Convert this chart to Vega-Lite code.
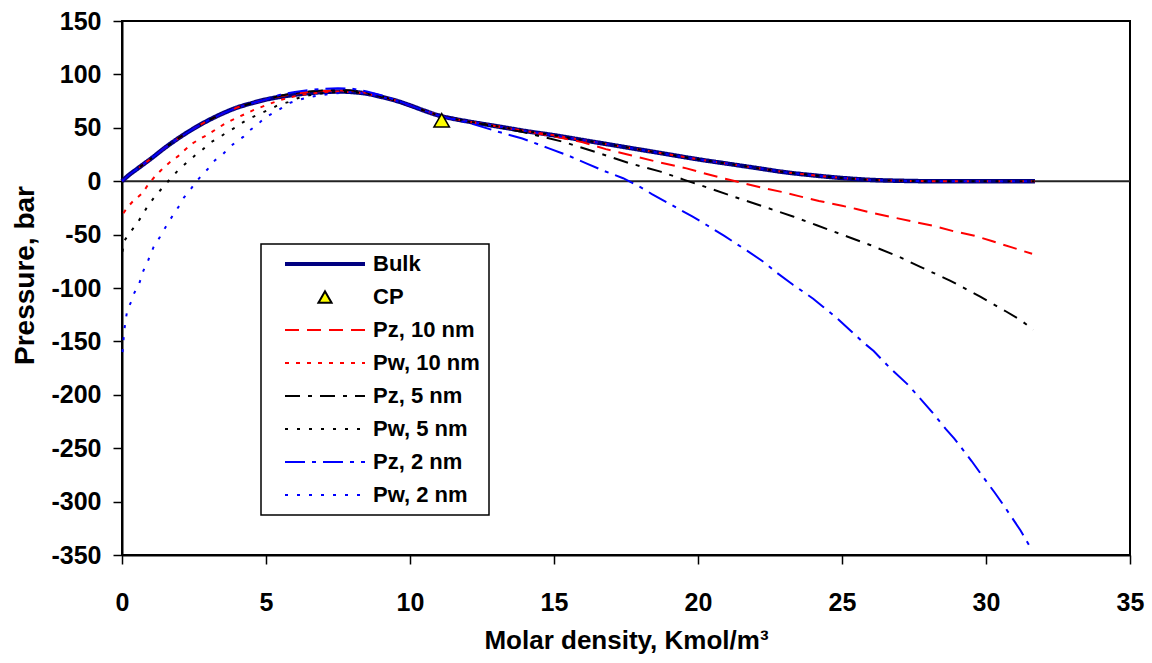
{
  "$schema": "https://vega.github.io/schema/vega-lite/v6.json",
  "width": 1008,
  "height": 534,
  "autosize": {"type": "none"},
  "padding": {"left": 122, "top": 21, "right": 22, "bottom": 108},
  "background": "white",
  "datasets": {
    "d": [
      {"s":"Bulk","x":0,"p":0},{"s":"Bulk","x":0.25,"p":6},{"s":"Bulk","x":0.5,"p":11},{"s":"Bulk","x":0.75,"p":16},{"s":"Bulk","x":1,"p":21},{"s":"Bulk","x":1.5,"p":31.5},{"s":"Bulk","x":2,"p":41},{"s":"Bulk","x":2.5,"p":49.5},{"s":"Bulk","x":3,"p":57},{"s":"Bulk","x":3.5,"p":63.5},{"s":"Bulk","x":4,"p":69},{"s":"Bulk","x":4.5,"p":73},{"s":"Bulk","x":5,"p":76.5},{"s":"Bulk","x":5.5,"p":79},{"s":"Bulk","x":6,"p":81},{"s":"Bulk","x":6.5,"p":82.5},{"s":"Bulk","x":7,"p":83.5},{"s":"Bulk","x":7.5,"p":84},{"s":"Bulk","x":8,"p":83.5},{"s":"Bulk","x":8.5,"p":82},{"s":"Bulk","x":9,"p":79},{"s":"Bulk","x":9.5,"p":75.5},{"s":"Bulk","x":10,"p":71},{"s":"Bulk","x":10.5,"p":66},{"s":"Bulk","x":11,"p":61.5},{"s":"Bulk","x":11.5,"p":58.5},{"s":"Bulk","x":12,"p":56},{"s":"Bulk","x":13,"p":51.5},{"s":"Bulk","x":14,"p":47},{"s":"Bulk","x":15,"p":43},{"s":"Bulk","x":16,"p":38.5},{"s":"Bulk","x":17,"p":34},{"s":"Bulk","x":18,"p":29.5},{"s":"Bulk","x":19,"p":25},{"s":"Bulk","x":20,"p":20.5},{"s":"Bulk","x":21,"p":16.5},{"s":"Bulk","x":22,"p":12.5},{"s":"Bulk","x":23,"p":8.5},{"s":"Bulk","x":24,"p":5.5},{"s":"Bulk","x":25,"p":3},{"s":"Bulk","x":26,"p":1.2},{"s":"Bulk","x":27,"p":0.4},{"s":"Bulk","x":28,"p":0},{"s":"Bulk","x":29,"p":0},{"s":"Bulk","x":30,"p":0},{"s":"Bulk","x":31,"p":0},{"s":"Bulk","x":31.7,"p":0},

      {"s":"CP","x":11.1,"p":57},

      {"s":"Pz, 10 nm","x":0,"p":0},{"s":"Pz, 10 nm","x":0.25,"p":6},{"s":"Pz, 10 nm","x":0.5,"p":11},{"s":"Pz, 10 nm","x":0.75,"p":16},{"s":"Pz, 10 nm","x":1,"p":21},{"s":"Pz, 10 nm","x":1.5,"p":31.5},{"s":"Pz, 10 nm","x":2,"p":41},{"s":"Pz, 10 nm","x":2.5,"p":49.5},{"s":"Pz, 10 nm","x":3,"p":57},{"s":"Pz, 10 nm","x":3.5,"p":63.5},{"s":"Pz, 10 nm","x":4,"p":69},{"s":"Pz, 10 nm","x":4.5,"p":73},{"s":"Pz, 10 nm","x":5,"p":76.5},{"s":"Pz, 10 nm","x":5.5,"p":79.5},{"s":"Pz, 10 nm","x":6,"p":82},{"s":"Pz, 10 nm","x":6.5,"p":83.5},{"s":"Pz, 10 nm","x":7,"p":84.5},{"s":"Pz, 10 nm","x":7.5,"p":85},{"s":"Pz, 10 nm","x":8,"p":84.5},{"s":"Pz, 10 nm","x":8.5,"p":82.5},{"s":"Pz, 10 nm","x":9,"p":79.5},{"s":"Pz, 10 nm","x":9.5,"p":75.5},{"s":"Pz, 10 nm","x":10,"p":71},{"s":"Pz, 10 nm","x":10.5,"p":66},{"s":"Pz, 10 nm","x":11,"p":61.5},{"s":"Pz, 10 nm","x":11.5,"p":58.5},{"s":"Pz, 10 nm","x":12,"p":56},{"s":"Pz, 10 nm","x":13,"p":51.5},{"s":"Pz, 10 nm","x":14,"p":47},{"s":"Pz, 10 nm","x":15,"p":42},{"s":"Pz, 10 nm","x":16,"p":36.5},{"s":"Pz, 10 nm","x":16.8,"p":30},{"s":"Pz, 10 nm","x":17.7,"p":24},{"s":"Pz, 10 nm","x":18.6,"p":18},{"s":"Pz, 10 nm","x":19.6,"p":12},{"s":"Pz, 10 nm","x":20.2,"p":7.5},{"s":"Pz, 10 nm","x":20.9,"p":2.5},{"s":"Pz, 10 nm","x":21.6,"p":-2},{"s":"Pz, 10 nm","x":22.3,"p":-6.5},{"s":"Pz, 10 nm","x":22.9,"p":-10},{"s":"Pz, 10 nm","x":23.5,"p":-14},{"s":"Pz, 10 nm","x":24.2,"p":-18.5},{"s":"Pz, 10 nm","x":25,"p":-23},{"s":"Pz, 10 nm","x":25.5,"p":-26},{"s":"Pz, 10 nm","x":26.1,"p":-30},{"s":"Pz, 10 nm","x":26.8,"p":-34},{"s":"Pz, 10 nm","x":27.5,"p":-38},{"s":"Pz, 10 nm","x":28.2,"p":-42},{"s":"Pz, 10 nm","x":28.9,"p":-47},{"s":"Pz, 10 nm","x":29.6,"p":-51},{"s":"Pz, 10 nm","x":30.2,"p":-56},{"s":"Pz, 10 nm","x":30.9,"p":-62},{"s":"Pz, 10 nm","x":31.6,"p":-68},

      {"s":"Pw, 10 nm","x":0.05,"p":-30},{"s":"Pw, 10 nm","x":0.16,"p":-25.5},{"s":"Pw, 10 nm","x":0.37,"p":-19},{"s":"Pw, 10 nm","x":0.72,"p":-11},{"s":"Pw, 10 nm","x":0.91,"p":-3},{"s":"Pw, 10 nm","x":1.15,"p":4.7},{"s":"Pw, 10 nm","x":1.38,"p":11},{"s":"Pw, 10 nm","x":1.67,"p":18},{"s":"Pw, 10 nm","x":1.95,"p":23.5},{"s":"Pw, 10 nm","x":2.19,"p":29.5},{"s":"Pw, 10 nm","x":2.42,"p":35},{"s":"Pw, 10 nm","x":2.7,"p":39.5},{"s":"Pw, 10 nm","x":3,"p":44},{"s":"Pw, 10 nm","x":3.23,"p":48},{"s":"Pw, 10 nm","x":3.52,"p":53},{"s":"Pw, 10 nm","x":3.8,"p":57},{"s":"Pw, 10 nm","x":4.2,"p":62},{"s":"Pw, 10 nm","x":4.56,"p":66.5},{"s":"Pw, 10 nm","x":5.08,"p":72},{"s":"Pw, 10 nm","x":5.5,"p":76},{"s":"Pw, 10 nm","x":6,"p":79.5},{"s":"Pw, 10 nm","x":6.5,"p":82},{"s":"Pw, 10 nm","x":7,"p":83.5},{"s":"Pw, 10 nm","x":7.5,"p":84},{"s":"Pw, 10 nm","x":8,"p":83.5},{"s":"Pw, 10 nm","x":8.5,"p":82},{"s":"Pw, 10 nm","x":9,"p":79},{"s":"Pw, 10 nm","x":9.5,"p":75.5},{"s":"Pw, 10 nm","x":10,"p":71},{"s":"Pw, 10 nm","x":10.5,"p":66},{"s":"Pw, 10 nm","x":11,"p":61.5},{"s":"Pw, 10 nm","x":11.5,"p":58.5},{"s":"Pw, 10 nm","x":12,"p":56},{"s":"Pw, 10 nm","x":13,"p":51.5},{"s":"Pw, 10 nm","x":14,"p":47},{"s":"Pw, 10 nm","x":15,"p":43},{"s":"Pw, 10 nm","x":16,"p":38.5},{"s":"Pw, 10 nm","x":17,"p":34},{"s":"Pw, 10 nm","x":18,"p":29.5},{"s":"Pw, 10 nm","x":19,"p":25},{"s":"Pw, 10 nm","x":20,"p":20.5},{"s":"Pw, 10 nm","x":21,"p":16.5},{"s":"Pw, 10 nm","x":22,"p":12.5},{"s":"Pw, 10 nm","x":23,"p":8.5},{"s":"Pw, 10 nm","x":24,"p":5.5},{"s":"Pw, 10 nm","x":25,"p":3},{"s":"Pw, 10 nm","x":26,"p":1.2},{"s":"Pw, 10 nm","x":27,"p":0.4},{"s":"Pw, 10 nm","x":28,"p":0},{"s":"Pw, 10 nm","x":29,"p":0},{"s":"Pw, 10 nm","x":30,"p":0},{"s":"Pw, 10 nm","x":31,"p":0},{"s":"Pw, 10 nm","x":31.7,"p":0},

      {"s":"Pz, 5 nm","x":0,"p":0},{"s":"Pz, 5 nm","x":0.25,"p":6},{"s":"Pz, 5 nm","x":0.5,"p":11},{"s":"Pz, 5 nm","x":0.75,"p":16},{"s":"Pz, 5 nm","x":1,"p":21},{"s":"Pz, 5 nm","x":1.5,"p":31.5},{"s":"Pz, 5 nm","x":2,"p":41},{"s":"Pz, 5 nm","x":2.5,"p":49.5},{"s":"Pz, 5 nm","x":3,"p":57},{"s":"Pz, 5 nm","x":3.5,"p":63.5},{"s":"Pz, 5 nm","x":4,"p":69},{"s":"Pz, 5 nm","x":4.5,"p":73},{"s":"Pz, 5 nm","x":5,"p":76.5},{"s":"Pz, 5 nm","x":5.5,"p":80},{"s":"Pz, 5 nm","x":6,"p":82.5},{"s":"Pz, 5 nm","x":6.5,"p":84},{"s":"Pz, 5 nm","x":7,"p":85},{"s":"Pz, 5 nm","x":7.5,"p":85.5},{"s":"Pz, 5 nm","x":8,"p":85},{"s":"Pz, 5 nm","x":8.5,"p":83},{"s":"Pz, 5 nm","x":9,"p":79.5},{"s":"Pz, 5 nm","x":9.5,"p":75.5},{"s":"Pz, 5 nm","x":10,"p":71},{"s":"Pz, 5 nm","x":10.5,"p":66},{"s":"Pz, 5 nm","x":11,"p":61.5},{"s":"Pz, 5 nm","x":11.5,"p":58.5},{"s":"Pz, 5 nm","x":12,"p":56},{"s":"Pz, 5 nm","x":13,"p":51},{"s":"Pz, 5 nm","x":14,"p":45.5},{"s":"Pz, 5 nm","x":15.3,"p":37},{"s":"Pz, 5 nm","x":16.6,"p":26},{"s":"Pz, 5 nm","x":17.6,"p":17},{"s":"Pz, 5 nm","x":18.7,"p":9},{"s":"Pz, 5 nm","x":19.5,"p":1.5},{"s":"Pz, 5 nm","x":20.5,"p":-7.5},{"s":"Pz, 5 nm","x":21.3,"p":-15},{"s":"Pz, 5 nm","x":22.3,"p":-24},{"s":"Pz, 5 nm","x":23.3,"p":-33},{"s":"Pz, 5 nm","x":24.1,"p":-41},{"s":"Pz, 5 nm","x":25.2,"p":-52},{"s":"Pz, 5 nm","x":26,"p":-60},{"s":"Pz, 5 nm","x":27,"p":-71},{"s":"Pz, 5 nm","x":27.7,"p":-80},{"s":"Pz, 5 nm","x":28.75,"p":-93},{"s":"Pz, 5 nm","x":29.8,"p":-108},{"s":"Pz, 5 nm","x":30.25,"p":-115},{"s":"Pz, 5 nm","x":30.7,"p":-122},{"s":"Pz, 5 nm","x":31.2,"p":-130},{"s":"Pz, 5 nm","x":31.64,"p":-139},

      {"s":"Pw, 5 nm","x":0.02,"p":-66},{"s":"Pw, 5 nm","x":0.05,"p":-57},{"s":"Pw, 5 nm","x":0.28,"p":-48},{"s":"Pw, 5 nm","x":0.51,"p":-40},{"s":"Pw, 5 nm","x":0.7,"p":-32},{"s":"Pw, 5 nm","x":0.91,"p":-22.5},{"s":"Pw, 5 nm","x":1.18,"p":-13},{"s":"Pw, 5 nm","x":1.38,"p":-7},{"s":"Pw, 5 nm","x":1.67,"p":2},{"s":"Pw, 5 nm","x":1.95,"p":10.3},{"s":"Pw, 5 nm","x":2.3,"p":18.7},{"s":"Pw, 5 nm","x":2.53,"p":24},{"s":"Pw, 5 nm","x":2.8,"p":29.6},{"s":"Pw, 5 nm","x":3.06,"p":36},{"s":"Pw, 5 nm","x":3.38,"p":41},{"s":"Pw, 5 nm","x":3.63,"p":45.6},{"s":"Pw, 5 nm","x":3.92,"p":50},{"s":"Pw, 5 nm","x":4.16,"p":54.6},{"s":"Pw, 5 nm","x":4.42,"p":58.7},{"s":"Pw, 5 nm","x":4.85,"p":64},{"s":"Pw, 5 nm","x":5.14,"p":67.4},{"s":"Pw, 5 nm","x":5.46,"p":71.8},{"s":"Pw, 5 nm","x":5.77,"p":74},{"s":"Pw, 5 nm","x":6.07,"p":77.5},{"s":"Pw, 5 nm","x":6.5,"p":80.5},{"s":"Pw, 5 nm","x":7,"p":82.5},{"s":"Pw, 5 nm","x":7.5,"p":83.5},{"s":"Pw, 5 nm","x":8,"p":83.5},{"s":"Pw, 5 nm","x":8.5,"p":82},{"s":"Pw, 5 nm","x":9,"p":79},{"s":"Pw, 5 nm","x":9.5,"p":75.5},{"s":"Pw, 5 nm","x":10,"p":71},{"s":"Pw, 5 nm","x":10.5,"p":66},{"s":"Pw, 5 nm","x":11,"p":61.5},{"s":"Pw, 5 nm","x":11.5,"p":58.5},{"s":"Pw, 5 nm","x":12,"p":56},{"s":"Pw, 5 nm","x":13,"p":51.5},{"s":"Pw, 5 nm","x":14,"p":47},{"s":"Pw, 5 nm","x":15,"p":43},{"s":"Pw, 5 nm","x":16,"p":38.5},{"s":"Pw, 5 nm","x":17,"p":34},{"s":"Pw, 5 nm","x":18,"p":29.5},{"s":"Pw, 5 nm","x":19,"p":25},{"s":"Pw, 5 nm","x":20,"p":20.5},{"s":"Pw, 5 nm","x":21,"p":16.5},{"s":"Pw, 5 nm","x":22,"p":12.5},{"s":"Pw, 5 nm","x":23,"p":8.5},{"s":"Pw, 5 nm","x":24,"p":5.5},{"s":"Pw, 5 nm","x":25,"p":3},{"s":"Pw, 5 nm","x":26,"p":1.2},{"s":"Pw, 5 nm","x":27,"p":0.4},{"s":"Pw, 5 nm","x":28,"p":0},{"s":"Pw, 5 nm","x":29,"p":0},{"s":"Pw, 5 nm","x":30,"p":0},{"s":"Pw, 5 nm","x":31,"p":0},{"s":"Pw, 5 nm","x":31.7,"p":0},

      {"s":"Pz, 2 nm","x":0,"p":0},{"s":"Pz, 2 nm","x":0.25,"p":6},{"s":"Pz, 2 nm","x":0.5,"p":11},{"s":"Pz, 2 nm","x":0.75,"p":16},{"s":"Pz, 2 nm","x":1,"p":21},{"s":"Pz, 2 nm","x":1.5,"p":31.5},{"s":"Pz, 2 nm","x":2,"p":41},{"s":"Pz, 2 nm","x":2.5,"p":49.5},{"s":"Pz, 2 nm","x":3,"p":57},{"s":"Pz, 2 nm","x":3.5,"p":63.5},{"s":"Pz, 2 nm","x":4,"p":69},{"s":"Pz, 2 nm","x":4.5,"p":73},{"s":"Pz, 2 nm","x":5,"p":76.5},{"s":"Pz, 2 nm","x":5.5,"p":81},{"s":"Pz, 2 nm","x":6,"p":83.5},{"s":"Pz, 2 nm","x":6.5,"p":85.5},{"s":"Pz, 2 nm","x":7,"p":86.5},{"s":"Pz, 2 nm","x":7.5,"p":87},{"s":"Pz, 2 nm","x":8,"p":86.5},{"s":"Pz, 2 nm","x":8.5,"p":84},{"s":"Pz, 2 nm","x":9,"p":80.5},{"s":"Pz, 2 nm","x":9.5,"p":76},{"s":"Pz, 2 nm","x":10,"p":71},{"s":"Pz, 2 nm","x":10.5,"p":66},{"s":"Pz, 2 nm","x":11,"p":61.5},{"s":"Pz, 2 nm","x":11.5,"p":58},{"s":"Pz, 2 nm","x":12,"p":55},{"s":"Pz, 2 nm","x":13.1,"p":46},{"s":"Pz, 2 nm","x":13.9,"p":40},{"s":"Pz, 2 nm","x":14.8,"p":31},{"s":"Pz, 2 nm","x":15.5,"p":24},{"s":"Pz, 2 nm","x":16.1,"p":17},{"s":"Pz, 2 nm","x":16.7,"p":10},{"s":"Pz, 2 nm","x":17.4,"p":2.8},{"s":"Pz, 2 nm","x":18,"p":-5.6},{"s":"Pz, 2 nm","x":18.4,"p":-12},{"s":"Pz, 2 nm","x":19,"p":-21},{"s":"Pz, 2 nm","x":19.8,"p":-33},{"s":"Pz, 2 nm","x":20.3,"p":-41},{"s":"Pz, 2 nm","x":20.9,"p":-51},{"s":"Pz, 2 nm","x":21.3,"p":-58},{"s":"Pz, 2 nm","x":21.7,"p":-65},{"s":"Pz, 2 nm","x":22.3,"p":-76},{"s":"Pz, 2 nm","x":22.7,"p":-85},{"s":"Pz, 2 nm","x":23.3,"p":-97},{"s":"Pz, 2 nm","x":24,"p":-110},{"s":"Pz, 2 nm","x":24.35,"p":-117.7},{"s":"Pz, 2 nm","x":24.8,"p":-127.6},{"s":"Pz, 2 nm","x":25.3,"p":-140},{"s":"Pz, 2 nm","x":25.74,"p":-151},{"s":"Pz, 2 nm","x":26.1,"p":-159},{"s":"Pz, 2 nm","x":26.67,"p":-175},{"s":"Pz, 2 nm","x":27.25,"p":-189.5},{"s":"Pz, 2 nm","x":27.57,"p":-199},{"s":"Pz, 2 nm","x":28.17,"p":-217.5},{"s":"Pz, 2 nm","x":28.6,"p":-232},{"s":"Pz, 2 nm","x":28.9,"p":-241},{"s":"Pz, 2 nm","x":29.5,"p":-262},{"s":"Pz, 2 nm","x":29.9,"p":-277},{"s":"Pz, 2 nm","x":30.3,"p":-291.5},{"s":"Pz, 2 nm","x":30.6,"p":-303},{"s":"Pz, 2 nm","x":31.2,"p":-327},{"s":"Pz, 2 nm","x":31.5,"p":-341},{"s":"Pz, 2 nm","x":31.55,"p":-344},

      {"s":"Pw, 2 nm","x":0.02,"p":-160},{"s":"Pw, 2 nm","x":0.05,"p":-149},{"s":"Pw, 2 nm","x":0.08,"p":-139.5},{"s":"Pw, 2 nm","x":0.14,"p":-128},{"s":"Pw, 2 nm","x":0.18,"p":-121},{"s":"Pw, 2 nm","x":0.3,"p":-114},{"s":"Pw, 2 nm","x":0.42,"p":-105},{"s":"Pw, 2 nm","x":0.59,"p":-96.6},{"s":"Pw, 2 nm","x":0.74,"p":-84},{"s":"Pw, 2 nm","x":0.91,"p":-74},{"s":"Pw, 2 nm","x":1.09,"p":-62},{"s":"Pw, 2 nm","x":1.32,"p":-52},{"s":"Pw, 2 nm","x":1.49,"p":-44},{"s":"Pw, 2 nm","x":1.64,"p":-37.5},{"s":"Pw, 2 nm","x":1.81,"p":-30},{"s":"Pw, 2 nm","x":1.99,"p":-23},{"s":"Pw, 2 nm","x":2.13,"p":-16},{"s":"Pw, 2 nm","x":2.36,"p":-8.4},{"s":"Pw, 2 nm","x":2.57,"p":-0.6},{"s":"Pw, 2 nm","x":2.77,"p":5.6},{"s":"Pw, 2 nm","x":3,"p":12},{"s":"Pw, 2 nm","x":3.23,"p":19.7},{"s":"Pw, 2 nm","x":3.46,"p":24},{"s":"Pw, 2 nm","x":3.69,"p":30.6},{"s":"Pw, 2 nm","x":3.96,"p":37},{"s":"Pw, 2 nm","x":4.21,"p":41.5},{"s":"Pw, 2 nm","x":4.44,"p":47.7},{"s":"Pw, 2 nm","x":4.68,"p":52.4},{"s":"Pw, 2 nm","x":4.97,"p":59.6},{"s":"Pw, 2 nm","x":5.25,"p":64},{"s":"Pw, 2 nm","x":5.55,"p":68.6},{"s":"Pw, 2 nm","x":5.83,"p":73.3},{"s":"Pw, 2 nm","x":6.18,"p":76.5},{"s":"Pw, 2 nm","x":6.53,"p":79},{"s":"Pw, 2 nm","x":6.88,"p":80.5},{"s":"Pw, 2 nm","x":7.3,"p":82},{"s":"Pw, 2 nm","x":8,"p":83.5},{"s":"Pw, 2 nm","x":8.5,"p":82},{"s":"Pw, 2 nm","x":9,"p":79},{"s":"Pw, 2 nm","x":9.5,"p":75.5},{"s":"Pw, 2 nm","x":10,"p":71},{"s":"Pw, 2 nm","x":10.5,"p":66},{"s":"Pw, 2 nm","x":11,"p":61.5},{"s":"Pw, 2 nm","x":11.5,"p":58.5},{"s":"Pw, 2 nm","x":12,"p":56},{"s":"Pw, 2 nm","x":13,"p":51.5},{"s":"Pw, 2 nm","x":14,"p":47},{"s":"Pw, 2 nm","x":15,"p":43},{"s":"Pw, 2 nm","x":16,"p":38.5},{"s":"Pw, 2 nm","x":17,"p":34},{"s":"Pw, 2 nm","x":18,"p":29.5},{"s":"Pw, 2 nm","x":19,"p":25},{"s":"Pw, 2 nm","x":20,"p":20.5},{"s":"Pw, 2 nm","x":21,"p":16.5},{"s":"Pw, 2 nm","x":22,"p":12.5},{"s":"Pw, 2 nm","x":23,"p":8.5},{"s":"Pw, 2 nm","x":24,"p":5.5},{"s":"Pw, 2 nm","x":25,"p":3},{"s":"Pw, 2 nm","x":26,"p":1.2},{"s":"Pw, 2 nm","x":27,"p":0.4},{"s":"Pw, 2 nm","x":28,"p":0},{"s":"Pw, 2 nm","x":29,"p":0},{"s":"Pw, 2 nm","x":30,"p":0},{"s":"Pw, 2 nm","x":31,"p":0},{"s":"Pw, 2 nm","x":31.7,"p":0}
    ]
  },
  "data": {"name": "d"},
  "layer": [
    {
      "data": {"values": [{}]},
      "mark": {"type": "rule", "color": "#222222", "strokeWidth": 2},
      "encoding": {
        "y": {"datum": 0, "type": "quantitative", "scale": {"domain": [-350, 150], "nice": false}, "title": "Pressure, bar"}
      }
    },
    {
      "transform": [{"filter": "datum.s === 'Bulk'"}],
      "mark": {"type": "line", "strokeWidth": 4.5, "interpolate": "monotone"},
      "encoding": {
        "x": {"field": "x", "type": "quantitative", "scale": {"domain": [0, 35], "nice": false, "zero": false}, "title": "Molar density, Kmol/m³", "axis": {"values": [0, 5, 10, 15, 20, 25, 30, 35]}},
        "y": {"field": "p", "type": "quantitative", "scale": {"domain": [-350, 150], "nice": false}, "title": "Pressure, bar", "axis": {"values": [-350, -300, -250, -200, -150, -100, -50, 0, 50, 100, 150], "labelExpr": "'' + datum.value"}},
        "color": {
          "field": "s", "type": "nominal",
          "scale": {"domain": ["Bulk", "CP", "Pz, 10 nm", "Pw, 10 nm", "Pz, 5 nm", "Pw, 5 nm", "Pz, 2 nm", "Pw, 2 nm"], "range": ["#000080", "#000000", "#FF0000", "#FF0000", "#000000", "#000000", "#0000FF", "#0000FF"]},
          "legend": {
            "title": null, "orient": "none", "legendX": 139, "legendY": 223, "direction": "vertical",
            "padding": 9, "strokeColor": "black", "fillColor": "white",
            "symbolSize": 6400, "symbolStrokeWidth": 2, "symbolType": "stroke", "symbolOffset": 14, "labelOffset": 7,
            "rowPadding": 11, "clipHeight": 22,
            "labelFont": "Liberation Sans", "labelFontSize": 22, "labelFontWeight": "bold", "labelColor": "black", "labelLimit": 300,
            "encode": {
              "symbols": {"update": {
                "shape": {"signal": "(datum.value === 'CP' ? 'triangle-up' : 'stroke')"},
                "size": {"signal": "(datum.value === 'CP' ? 170 : 6400)"},
                "fill": {"signal": "(datum.value === 'CP' ? '#ffff00' : 'transparent')"},
                "strokeWidth": {"signal": "(datum.value === 'Bulk' ? 4 : 2)"},
                "opacity": {"value": 1},
                "strokeOpacity": {"value": 1}
              }},
              "legend": {"update": {"strokeWidth": {"value": 1.5}}}
            }
          }
        },
        "strokeDash": {"field": "s", "type": "nominal", "scale": {"domain": ["Bulk", "CP", "Pz, 10 nm", "Pw, 10 nm", "Pz, 5 nm", "Pw, 5 nm", "Pz, 2 nm", "Pw, 2 nm"], "range": [[1, 0], [1, 0], [14, 8], [4, 7], [15, 8, 4, 8], [3, 9], [20, 7, 4, 7], [3, 9]]}, "legend": null}
      }
    },
    {
      "transform": [{"filter": "datum.s !== 'Bulk' && datum.s !== 'CP'"}],
      "mark": {"type": "line", "strokeWidth": 2},
      "encoding": {
        "x": {"field": "x", "type": "quantitative", "scale": {"domain": [0, 35], "nice": false, "zero": false}, "title": "Molar density, Kmol/m³"},
        "y": {"field": "p", "type": "quantitative", "scale": {"domain": [-350, 150], "nice": false}, "title": "Pressure, bar"},
        "color": {
          "field": "s", "type": "nominal",
          "scale": {"domain": ["Bulk", "CP", "Pz, 10 nm", "Pw, 10 nm", "Pz, 5 nm", "Pw, 5 nm", "Pz, 2 nm", "Pw, 2 nm"], "range": ["#000080", "#000000", "#FF0000", "#FF0000", "#000000", "#000000", "#0000FF", "#0000FF"]}
        },
        "strokeDash": {"field": "s", "type": "nominal", "scale": {"domain": ["Bulk", "CP", "Pz, 10 nm", "Pw, 10 nm", "Pz, 5 nm", "Pw, 5 nm", "Pz, 2 nm", "Pw, 2 nm"], "range": [[1, 0], [1, 0], [14, 8], [4, 7], [15, 8, 4, 8], [3, 9], [20, 7, 4, 7], [3, 9]]}, "legend": null}
      }
    },
    {
      "transform": [{"filter": "datum.s === 'CP'"}],
      "mark": {"type": "point", "shape": "triangle-up", "filled": true, "fill": "#FFFF00", "size": 240, "stroke": "#000000", "strokeWidth": 1.5, "opacity": 1},
      "encoding": {
        "x": {"field": "x", "type": "quantitative", "title": "Molar density, Kmol/m³"},
        "y": {"field": "p", "type": "quantitative", "title": "Pressure, bar"}
      }
    }
  ],
  "config": {
    "view": {"stroke": "black", "strokeWidth": 2},
    "font": "Liberation Sans",
    "axis": {
      "grid": false, "domainColor": "black", "domainWidth": 2, "tickColor": "black", "tickWidth": 1.5, "tickSize": 9,
      "labelFont": "Liberation Sans", "labelFontWeight": "bold", "labelFontSize": 25, "labelColor": "black", "labelFlush": false, "labelOverlap": false,
      "titleFont": "Liberation Sans", "titleFontWeight": "bold", "titleFontSize": 26, "titleColor": "black"
    },
    "axisX": {"labelPadding": 26, "titleY": 93, "titleBaseline": "alphabetic"},
    "axisY": {"labelPadding": 12, "titleX": -89, "titleY": 254, "titleAngle": -90, "titleBaseline": "alphabetic", "titleAlign": "center", "titleFontSize": 28}
  }
}
